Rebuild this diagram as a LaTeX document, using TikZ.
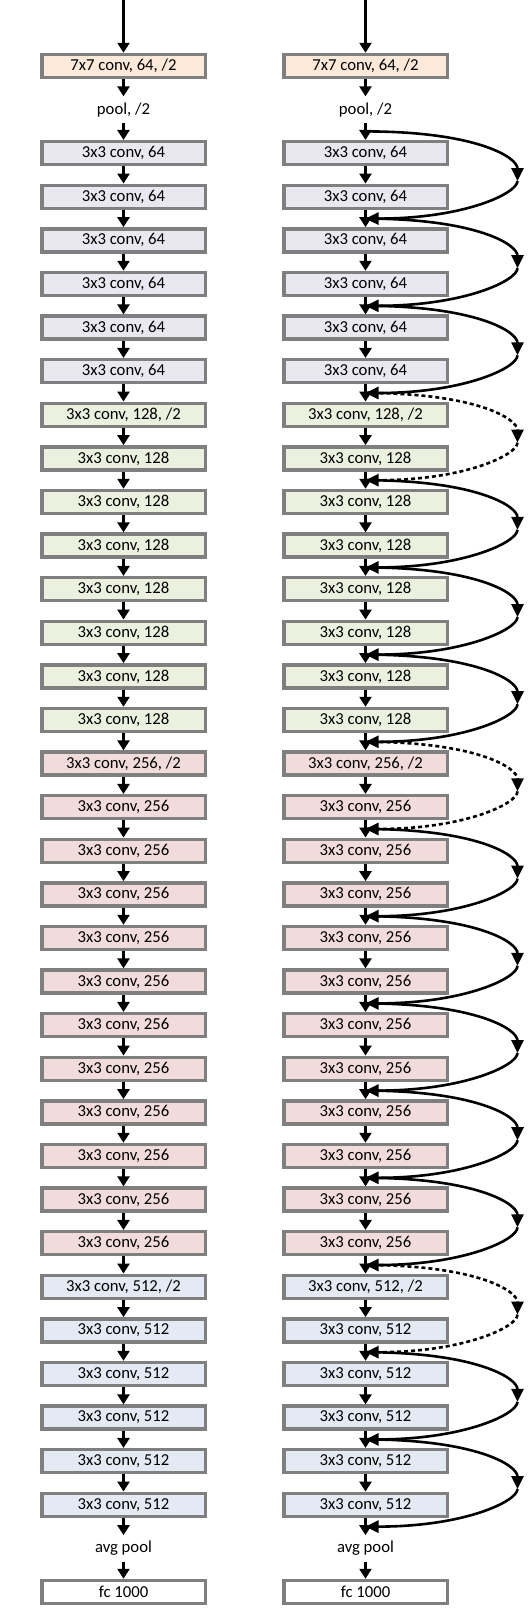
\documentclass[tikz,border=0pt]{standalone}
\usepackage{fontspec}
\setmainfont{Carlito}
\usetikzlibrary{arrows.meta,calc}
\definecolor{boxgray}{HTML}{7F7F7F}
\definecolor{cseven}{HTML}{FDE9D9}
\definecolor{csixtyfour}{HTML}{E9E7F0}
\definecolor{conetwentyeight}{HTML}{EBF1DE}
\definecolor{ctwofiftysix}{HTML}{F2DCDB}
\definecolor{cfivetwelve}{HTML}{E4EAF4}
\newcommand\mylayer[3]{%
  \node[#2] (L#1) at (123.5,{-66-43.6*#1}) {#3};
  \node[#2] (R#1) at (365.5,{-66-43.6*#1}) {#3};}
\begin{document}
\begin{tikzpicture}[x=1pt,y=1pt,
  every node/.style={font=\fontsize{16.7}{19}\selectfont},
  layerbox/.style={draw=boxgray, line width=3.5pt, minimum width=163.5pt, minimum height=23pt, inner sep=0pt},
  txtbox/.style={line width=3.5pt, minimum width=163.5pt, minimum height=23pt, inner sep=0pt},
  bseven/.style={layerbox, fill=cseven},
  bsixtyfour/.style={layerbox, fill=csixtyfour},
  bonetwentyeight/.style={layerbox, fill=conetwentyeight},
  btwofiftysix/.style={layerbox, fill=ctwofiftysix},
  bfivetwelve/.style={layerbox, fill=cfivetwelve},
  bfc/.style={layerbox, fill=white},
  mainarrow/.style={line width=3.5pt, -{Triangle[width=12pt,length=10pt]}},
  skipline/.style={line width=2.6pt, -{Triangle[width=12pt,length=13pt]}},
  dotline/.style={dash pattern=on 4pt off 3pt}
]
\useasboundingbox (0,0) rectangle (530,-1610);

\mylayer{0}{bseven}{7x7 conv, 64, /2}
\mylayer{1}{txtbox}{pool, /2}
\foreach \i in {2,...,7}{\mylayer{\i}{bsixtyfour}{3x3 conv, 64}}
\mylayer{8}{bonetwentyeight}{3x3 conv, 128, /2}
\foreach \i in {9,...,15}{\mylayer{\i}{bonetwentyeight}{3x3 conv, 128}}
\mylayer{16}{btwofiftysix}{3x3 conv, 256, /2}
\foreach \i in {17,...,27}{\mylayer{\i}{btwofiftysix}{3x3 conv, 256}}
\mylayer{28}{bfivetwelve}{3x3 conv, 512, /2}
\foreach \i in {29,...,33}{\mylayer{\i}{bfivetwelve}{3x3 conv, 512}}
\mylayer{34}{txtbox}{avg pool}
\mylayer{35}{bfc}{fc 1000}

\coordinate (LT) at (123.5,0);
\coordinate (RT) at (365.5,0);
\draw[mainarrow] (LT) -- (L0.north);
\draw[mainarrow] (RT) -- (R0.north);
\foreach \i in {0,...,34}{
  \pgfmathtruncatemacro\nx{\i+1}
  \draw[mainarrow] (L\i.south) -- (L\nx.north);
  \draw[mainarrow] (R\i.south) -- (R\nx.north);
}

\foreach \r in {2,4,...,34}{
  \pgfmathtruncatemacro\pr{\r-1}
  \coordinate (J\r) at ($(R\pr.south)!0.5!(R\r.north)$);
}
\foreach \r in {2,4,...,32}{
  \pgfmathtruncatemacro\nx{\r+1}
  \coordinate (M\r) at ($(R\r.center)!0.5!(R\nx.center)+(152,-6)$);
}
\foreach \r in {2,4,6,10,12,14,18,20,22,24,26,30,32}{
  \pgfmathtruncatemacro\e{\r+2}
  \draw[skipline] (J\r) .. controls +(110,0) and +(0,24) .. (M\r);
  \draw[skipline] (M\r) .. controls +(0,-12) and +(100,0) .. (J\e);
}
\foreach \r in {8,16,28}{
  \pgfmathtruncatemacro\e{\r+2}
  \draw[skipline,dotline] (J\r) .. controls +(110,0) and +(0,24) .. (M\r);
  \draw[skipline,dotline] (M\r) .. controls +(0,-12) and +(100,0) .. (J\e);
}
\end{tikzpicture}
\end{document}
